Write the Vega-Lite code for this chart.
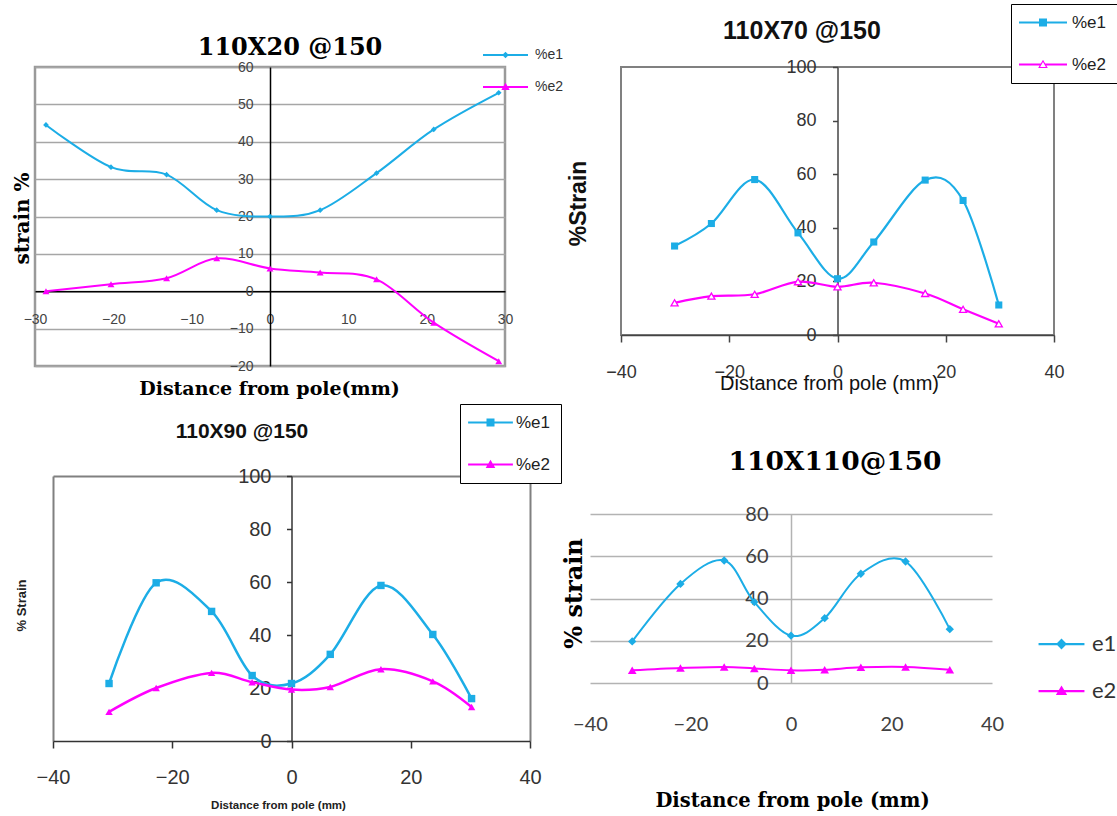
{
  "$schema": "https://vega.github.io/schema/vega-lite/v6.json",
  "background": "white",
  "padding": {"left": 10, "top": 2, "right": 0, "bottom": 0},
  "columns": 2,
  "bounds": "flush",
  "spacing": {"row": 110, "column": 91},
  "config": {"view": {"stroke": null}, "font": "Liberation Sans"},
  "datasets": {
    "p1": [
      {"x": -28.6, "s": "%e1", "v": 44.5}, {"x": -20.3, "s": "%e1", "v": 33.2}, {"x": -13.2, "s": "%e1", "v": 31.2},
      {"x": -6.8, "s": "%e1", "v": 21.7}, {"x": 0, "s": "%e1", "v": 20.0}, {"x": 6.4, "s": "%e1", "v": 21.7},
      {"x": 13.6, "s": "%e1", "v": 31.6}, {"x": 20.9, "s": "%e1", "v": 43.3}, {"x": 29.2, "s": "%e1", "v": 53.1},
      {"x": -28.6, "s": "%e2", "v": 0}, {"x": -20.3, "s": "%e2", "v": 1.9}, {"x": -13.2, "s": "%e2", "v": 3.5},
      {"x": -6.8, "s": "%e2", "v": 8.8}, {"x": 0, "s": "%e2", "v": 6.1}, {"x": 6.4, "s": "%e2", "v": 5.0},
      {"x": 13.6, "s": "%e2", "v": 3.2}, {"x": 20.9, "s": "%e2", "v": -8.4}, {"x": 29.2, "s": "%e2", "v": -18.7}
    ],
    "p2": [
      {"x": -30.1, "s": "%e1", "v": 33.2}, {"x": -23.3, "s": "%e1", "v": 41.6}, {"x": -15.3, "s": "%e1", "v": 58.0},
      {"x": -7.3, "s": "%e1", "v": 38.1}, {"x": 0, "s": "%e1", "v": 21.0}, {"x": 6.7, "s": "%e1", "v": 34.7},
      {"x": 16.2, "s": "%e1", "v": 57.8}, {"x": 23.2, "s": "%e1", "v": 50.2}, {"x": 29.8, "s": "%e1", "v": 11.2},
      {"x": -30.1, "s": "%e2", "v": 12.0}, {"x": -23.3, "s": "%e2", "v": 14.5}, {"x": -15.3, "s": "%e2", "v": 15.2},
      {"x": -7.3, "s": "%e2", "v": 19.9}, {"x": 0, "s": "%e2", "v": 18.0}, {"x": 6.7, "s": "%e2", "v": 19.5},
      {"x": 16.2, "s": "%e2", "v": 15.5}, {"x": 23.2, "s": "%e2", "v": 9.6}, {"x": 29.8, "s": "%e2", "v": 4.2}
    ],
    "p3": [
      {"x": -30.6, "s": "%e1", "v": 21.7}, {"x": -22.7, "s": "%e1", "v": 59.7}, {"x": -13.4, "s": "%e1", "v": 48.9},
      {"x": -6.6, "s": "%e1", "v": 24.7}, {"x": 0, "s": "%e1", "v": 21.7}, {"x": 6.5, "s": "%e1", "v": 32.7},
      {"x": 15.0, "s": "%e1", "v": 58.7}, {"x": 23.7, "s": "%e1", "v": 40.2}, {"x": 30.2, "s": "%e1", "v": 16.0},
      {"x": -30.6, "s": "%e2", "v": 11.0}, {"x": -22.7, "s": "%e2", "v": 20.0}, {"x": -13.4, "s": "%e2", "v": 25.7},
      {"x": -6.6, "s": "%e2", "v": 22.2}, {"x": 0, "s": "%e2", "v": 19.4}, {"x": 6.5, "s": "%e2", "v": 20.4},
      {"x": 15.0, "s": "%e2", "v": 27.1}, {"x": 23.7, "s": "%e2", "v": 22.5}, {"x": 30.2, "s": "%e2", "v": 12.8}
    ],
    "p4": [
      {"x": -31.6, "s": "e1", "v": 19.7}, {"x": -22.0, "s": "e1", "v": 46.9}, {"x": -13.3, "s": "e1", "v": 58.0},
      {"x": -7.3, "s": "e1", "v": 38.3}, {"x": 0, "s": "e1", "v": 22.4}, {"x": 6.7, "s": "e1", "v": 30.7},
      {"x": 13.9, "s": "e1", "v": 51.7}, {"x": 22.8, "s": "e1", "v": 57.5}, {"x": 31.6, "s": "e1", "v": 25.5},
      {"x": -31.6, "s": "e2", "v": 6.0}, {"x": -22.0, "s": "e2", "v": 7.1}, {"x": -13.3, "s": "e2", "v": 7.6},
      {"x": -7.3, "s": "e2", "v": 6.9}, {"x": 0, "s": "e2", "v": 6.0}, {"x": 6.7, "s": "e2", "v": 6.3},
      {"x": 13.9, "s": "e2", "v": 7.4}, {"x": 22.8, "s": "e2", "v": 7.6}, {"x": 31.6, "s": "e2", "v": 6.3}
    ]
  },
  "resolve": {
    "scale": {"x": "independent", "y": "independent", "color": "independent", "shape": "independent"},
    "legend": {"color": "independent", "shape": "independent"}
  },
  "concat": [
    {
      "width": 470, "height": 299,
      "data": {"name": "p1"},
      "view": {"stroke": "#9a9a9a", "strokeWidth": 2.5, "fill": "white"},
      "title": {"text": "110X20 @150", "font": "DejaVu Serif", "fontSize": 24, "fontWeight": "bold", "color": "#000", "anchor": "middle", "frame": "group", "dx": 20, "dy": 20, "offset": 8},
      "encoding": {
        "x": {"field": "x", "type": "quantitative", "scale": {"domain": [-30, 30], "nice": false, "zero": false},
          "axis": {"values": [-30, -20, -10, 0, 10, 20, 30], "offset": -74.75, "domainColor": "#000", "domainWidth": 1.5, "ticks": false, "tickSize": 0, "grid": false,
            "labelFont": "Liberation Sans Narrow, Liberation Sans, sans-serif", "labelFontSize": 14, "labelColor": "#444", "labelPadding": 21, "labelFlush": false, "labelOverlap": false,
            "title": "Distance from pole(mm)", "titleFont": "DejaVu Serif", "titleFontSize": 19, "titleFontWeight": "bold", "titleColor": "#000",
            "titleX": 234, "titleY": 97, "titleAlign": "center", "titleBaseline": "middle"}},
        "y": {"field": "v", "type": "quantitative", "scale": {"domain": [-20, 60], "nice": false},
          "axis": {"values": [-20, -10, 0, 10, 20, 30, 40, 50, 60], "offset": -235, "domainColor": "#000", "domainWidth": 1.5, "ticks": false, "tickSize": 0,
            "grid": true, "gridColor": "#a6a6a6", "gridWidth": 1.5,
            "labelFont": "Liberation Sans Narrow, Liberation Sans, sans-serif", "labelFontSize": 14, "labelColor": "#444", "labelPadding": 17, "labelFlush": false, "labelOverlap": false,
            "title": "strain %", "titleFont": "DejaVu Serif", "titleFontSize": 20, "titleFontWeight": "bold", "titleColor": "#000", "titleAngle": -90,
            "titleX": -248, "titleY": 151, "titleAlign": "center", "titleBaseline": "middle"}}
      },
      "layer": [
        {"transform": [{"filter": "datum.s === '%e1'"}], "mark": {"type": "line", "interpolate": "cardinal", "tension": 0, "color": "#1CADE6", "strokeWidth": 2}},
        {"transform": [{"filter": "datum.s === '%e2'"}], "mark": {"type": "line", "interpolate": "cardinal", "tension": 0, "color": "#FF00FF", "strokeWidth": 2}},
        {"transform": [{"filter": "datum.s === '%e1'"}], "mark": {"type": "point", "shape": "diamond", "filled": true, "opacity": 1, "size": 32, "color": "#1CADE6"}},
        {"transform": [{"filter": "datum.s === '%e2'"}], "mark": {"type": "point", "shape": "triangle-up", "filled": true, "opacity": 1, "size": 48, "color": "#FF00FF"}},
        {"mark": {"type": "point", "filled": true, "opacity": 0},
          "encoding": {
            "color": {"field": "s", "type": "nominal", "scale": {"domain": ["%e1", "%e2"], "range": ["#1CADE6", "#FF00FF"]},
              "legend": {"orient": "none", "legendX": 463.5, "legendY": -19, "direction": "vertical", "title": null, "padding": 0, "symbolSize": 36, "symbolStrokeWidth": 0, "symbolOffset": 0, "symbolOpacity": 1, "labelOffset": 22.5, "labelFont": "Liberation Sans Narrow, Liberation Sans, sans-serif", "labelFontSize": 14, "labelColor": "#333", "rowPadding": 18}},
            "shape": {"field": "s", "type": "nominal", "scale": {"domain": ["%e1", "%e2"], "range": ["M-7.5,-0.33H7.5V0.33H-7.5ZM0,-1.1L1.1,0L0,1.1L-1.1,0Z", "M-7.5,-0.33H7.5V0.33H-7.5ZM0,-1.4L1.4,1H-1.4Z"]},
              "legend": {"orient": "none", "legendX": 463.5, "legendY": -19, "direction": "vertical", "title": null, "padding": 0, "symbolSize": 36, "symbolStrokeWidth": 0, "symbolOffset": 0, "symbolOpacity": 1, "labelOffset": 22.5, "labelFont": "Liberation Sans Narrow, Liberation Sans, sans-serif", "labelFontSize": 14, "labelColor": "#333", "rowPadding": 18}}
          }}
      ]
    },
    {
      "width": 433, "height": 268,
      "data": {"name": "p2"},
      "view": {"stroke": "#808080", "strokeWidth": 2, "fill": "white"},
      "title": {"text": "110X70 @150", "font": "Liberation Sans", "fontSize": 25, "fontWeight": "bold", "color": "#111", "anchor": "middle", "frame": "group", "dx": -35.5, "dy": 48, "offset": 8},
      "encoding": {
        "x": {"field": "x", "type": "quantitative", "scale": {"domain": [-40, 40], "nice": false, "zero": false},
          "axis": {"values": [-40, -20, 0, 20, 40], "domainColor": "#444", "domainWidth": 1.5, "ticks": true, "tickSize": 7, "tickColor": "#444", "tickWidth": 1.5, "grid": false,
            "labelFont": "Liberation Sans", "labelFontSize": 18, "labelColor": "#333", "labelPadding": 21, "labelFlush": false, "labelOverlap": false,
            "title": "Distance from pole (mm)", "titleFont": "Liberation Sans", "titleFontSize": 20, "titleFontWeight": "normal", "titleColor": "#111",
            "titleX": 208, "titleY": 48, "titleAlign": "center", "titleBaseline": "middle"}},
        "y": {"field": "v", "type": "quantitative", "scale": {"domain": [0, 100], "nice": false},
          "axis": {"values": [0, 20, 40, 60, 80, 100], "offset": -216.5, "domainColor": "#444", "domainWidth": 1.5, "ticks": true, "tickSize": 5, "tickColor": "#444", "tickWidth": 1.5, "grid": false,
            "labelFont": "Liberation Sans", "labelFontSize": 18, "labelColor": "#333", "labelPadding": 16.5, "labelFlush": false, "labelOverlap": false,
            "title": "%Strain", "titleFont": "Liberation Sans", "titleFontSize": 23, "titleFontWeight": "bold", "titleColor": "#111", "titleAngle": -90,
            "titleX": -259.5, "titleY": 136, "titleAlign": "center", "titleBaseline": "middle"}}
      },
      "layer": [
        {"transform": [{"filter": "datum.s === '%e1'"}], "mark": {"type": "line", "interpolate": "cardinal", "tension": 0, "color": "#1CADE6", "strokeWidth": 2.2}},
        {"transform": [{"filter": "datum.s === '%e2'"}], "mark": {"type": "line", "interpolate": "cardinal", "tension": 0, "color": "#FF00FF", "strokeWidth": 2.2}},
        {"transform": [{"filter": "datum.s === '%e1'"}], "mark": {"type": "point", "shape": "square", "filled": true, "opacity": 1, "size": 50, "color": "#1CADE6"}},
        {"transform": [{"filter": "datum.s === '%e2'"}], "mark": {"type": "point", "shape": "triangle-up", "filled": true, "opacity": 1, "size": 50, "fill": "white", "stroke": "#FF00FF", "strokeWidth": 1.3}},
        {"mark": {"type": "point", "filled": true, "opacity": 0},
          "encoding": {
            "color": {"field": "s", "type": "nominal", "scale": {"domain": ["%e1", "%e2"], "range": ["#1CADE6", "#FF00FF"]},
              "legend": {"orient": "none", "legendX": 390, "legendY": -63, "direction": "vertical", "title": null, "padding": 10, "strokeColor": "#000", "fillColor": "white", "symbolSize": 64, "symbolStrokeWidth": 0, "symbolOffset": 13.5, "symbolOpacity": 1, "labelOffset": 20.5, "labelFont": "Liberation Sans", "labelFontSize": 17, "labelColor": "#222", "rowPadding": 24}},
            "shape": {"field": "s", "type": "nominal", "scale": {"domain": ["%e1", "%e2"], "range": ["M-6,-0.25H6V0.25H-6ZM-1,-1H1V1H-1Z", "M-6,-0.25H-0.55V0.25H-6ZM0.55,-0.25H6V0.25H0.55ZM0,-1.2L1.2,0.9H-1.2ZM0,-0.65L-0.72,0.6H0.72Z"]},
              "legend": {"orient": "none", "legendX": 390, "legendY": -63, "direction": "vertical", "title": null, "padding": 10, "strokeColor": "#000", "fillColor": "white", "symbolSize": 64, "symbolStrokeWidth": 0, "symbolOffset": 13.5, "symbolOpacity": 1, "labelOffset": 20.5, "labelFont": "Liberation Sans", "labelFontSize": 17, "labelColor": "#222", "rowPadding": 24}}
          }}
      ]
    },
    {
      "width": 495, "height": 265,
      "data": {"name": "p3"},
      "view": {"stroke": null},
      "title": {"text": "110X90 @150", "font": "Liberation Sans", "fontSize": 21, "fontWeight": "bold", "color": "#111", "anchor": "middle", "frame": "group", "dx": -40.5, "dy": 46, "offset": 8},
      "encoding": {
        "x": {"field": "x", "type": "quantitative", "scale": {"domain": [-40, 40], "nice": false, "zero": false, "range": [18, 495]},
          "axis": {"values": [-40, -20, 0, 20, 40], "domainColor": "#333", "domainWidth": 1.5, "ticks": true, "tickSize": 7, "tickColor": "#333", "tickWidth": 1.5,
            "grid": true, "gridWidth": 2, "gridColor": {"condition": {"test": "datum.value === -40 || datum.value === 40", "value": "#808080"}, "value": "transparent"},
            "labelFont": "Liberation Sans", "labelFontSize": 20, "labelColor": "#333", "labelPadding": 19, "labelFlush": false, "labelOverlap": false,
            "title": "Distance from pole (mm)", "titleFont": "Liberation Sans", "titleFontSize": 11.5, "titleFontWeight": "bold", "titleColor": "#222",
            "titleX": 243, "titleY": 64, "titleAlign": "center", "titleBaseline": "middle"}},
        "y": {"field": "v", "type": "quantitative", "scale": {"domain": [0, 100], "nice": false},
          "axis": {"values": [0, 20, 40, 60, 80, 100], "offset": -256.5, "domainColor": "#333", "domainWidth": 1.5, "ticks": true, "tickSize": 5, "tickColor": "#333", "tickWidth": 1.5,
            "grid": true, "gridWidth": 2, "gridColor": {"condition": {"test": "datum.value === 100", "value": "#808080"}, "value": "transparent"},
            "labelFont": "Liberation Sans", "labelFontSize": 20, "labelColor": "#333", "labelPadding": 15.5, "labelFlush": false, "labelOverlap": false,
            "title": "% Strain", "titleFont": "Liberation Sans", "titleFontSize": 13, "titleFontWeight": "bold", "titleColor": "#222", "titleAngle": -90,
            "titleX": -270.5, "titleY": 129, "titleAlign": "center", "titleBaseline": "middle"}}
      },
      "layer": [
        {"transform": [{"filter": "datum.s === '%e1'"}], "mark": {"type": "line", "interpolate": "cardinal", "tension": 0, "color": "#1CADE6", "strokeWidth": 2.5}},
        {"transform": [{"filter": "datum.s === '%e2'"}], "mark": {"type": "line", "interpolate": "cardinal", "tension": 0, "color": "#FF00FF", "strokeWidth": 2.5}},
        {"transform": [{"filter": "datum.s === '%e1'"}], "mark": {"type": "point", "shape": "square", "filled": true, "opacity": 1, "size": 55, "color": "#1CADE6"}},
        {"transform": [{"filter": "datum.s === '%e2'"}], "mark": {"type": "point", "shape": "triangle-up", "filled": true, "opacity": 1, "size": 55, "color": "#FF00FF"}},
        {"mark": {"type": "point", "filled": true, "opacity": 0},
          "encoding": {
            "color": {"field": "s", "type": "nominal", "scale": {"domain": ["%e1", "%e2"], "range": ["#1CADE6", "#FF00FF"]},
              "legend": {"orient": "none", "legendX": 425, "legendY": -72, "direction": "vertical", "title": null, "padding": 10, "strokeColor": "#000", "fillColor": "white", "symbolSize": 64, "symbolStrokeWidth": 0, "symbolOffset": 12, "symbolOpacity": 1, "labelOffset": 17, "labelFont": "Liberation Sans", "labelFontSize": 17, "labelColor": "#222", "rowPadding": 24}},
            "shape": {"field": "s", "type": "nominal", "scale": {"domain": ["%e1", "%e2"], "range": ["M-5.6,-0.25H5.6V0.25H-5.6ZM-1,-1H1V1H-1Z", "M-5.6,-0.25H5.6V0.25H-5.6ZM0,-1.2L1.2,0.9H-1.2Z"]},
              "legend": {"orient": "none", "legendX": 425, "legendY": -72, "direction": "vertical", "title": null, "padding": 10, "strokeColor": "#000", "fillColor": "white", "symbolSize": 64, "symbolStrokeWidth": 0, "symbolOffset": 12, "symbolOpacity": 1, "labelOffset": 17, "labelFont": "Liberation Sans", "labelFontSize": 17, "labelColor": "#222", "rowPadding": 24}}
          }}
      ]
    },
    {
      "width": 371, "height": 207,
      "data": {"name": "p4"},
      "view": {"stroke": null},
      "title": {"text": "110X110@150", "font": "DejaVu Serif", "fontSize": 26.5, "fontWeight": "bold", "color": "#000", "anchor": "middle", "frame": "group", "dx": 28.5, "dy": 7, "offset": 8},
      "encoding": {
        "x": {"field": "x", "type": "quantitative", "scale": {"domain": [-40, 40], "nice": false, "zero": false, "range": [-31, 371]},
          "axis": {"values": [-40, -20, 0, 20, 40], "domain": false, "ticks": false, "tickSize": 0, "grid": false,
            "labelFont": "Lato", "labelFontSize": 20, "labelColor": "#404040", "labelPadding": 31, "labelFlush": false, "labelOverlap": false,
            "title": "Distance from pole (mm)", "titleFont": "DejaVu Serif", "titleFontSize": 19.5, "titleFontWeight": "bold", "titleColor": "#000",
            "titleX": 171, "titleY": 117, "titleAlign": "center", "titleBaseline": "middle"}},
        "y": {"field": "v", "type": "quantitative", "scale": {"domain": [0, 80], "nice": false, "range": [207, 38]},
          "axis": {"values": [0, 20, 40, 60, 80], "offset": -170, "domainColor": "#b3b3b3", "domainWidth": 1.5, "ticks": false, "tickSize": 0,
            "grid": true, "gridColor": "#b3b3b3", "gridWidth": 1.5,
            "labelFont": "Lato", "labelFontSize": 20, "labelColor": "#404040", "labelPadding": 23, "labelFlush": false, "labelOverlap": false,
            "title": "% strain", "titleFont": "DejaVu Serif", "titleFontSize": 24, "titleFontWeight": "bold", "titleColor": "#000", "titleAngle": -90,
            "titleX": -217, "titleY": 117, "titleAlign": "center", "titleBaseline": "middle"}}
      },
      "layer": [
        {"transform": [{"filter": "datum.s === 'e1'"}], "mark": {"type": "line", "interpolate": "cardinal", "tension": 0, "color": "#1CADE6", "strokeWidth": 2}},
        {"transform": [{"filter": "datum.s === 'e2'"}], "mark": {"type": "line", "interpolate": "cardinal", "tension": 0, "color": "#FF00FF", "strokeWidth": 2}},
        {"transform": [{"filter": "datum.s === 'e1'"}], "mark": {"type": "point", "shape": "diamond", "filled": true, "opacity": 1, "size": 70, "color": "#1CADE6"}},
        {"transform": [{"filter": "datum.s === 'e2'"}], "mark": {"type": "point", "shape": "triangle-up", "filled": true, "opacity": 1, "size": 75, "color": "#FF00FF"}},
        {"mark": {"type": "point", "filled": true, "opacity": 0},
          "encoding": {
            "color": {"field": "s", "type": "nominal", "scale": {"domain": ["e1", "e2"], "range": ["#1CADE6", "#FF00FF"]},
              "legend": {"orient": "none", "legendX": 409.5, "legendY": 157, "direction": "vertical", "title": null, "padding": 0, "symbolSize": 81, "symbolStrokeWidth": 0, "symbolOffset": 20, "symbolOpacity": 1, "labelOffset": 19.5, "labelFont": "Lato", "labelFontSize": 22, "labelColor": "#333", "rowPadding": 25}},
            "shape": {"field": "s", "type": "nominal", "scale": {"domain": ["e1", "e2"], "range": ["M-5.1,-0.25H5.1V0.25H-5.1ZM0,-1.2L1.2,0L0,1.2L-1.2,0Z", "M-5.1,-0.25H5.1V0.25H-5.1ZM0,-1.25L1.25,0.9H-1.25Z"]},
              "legend": {"orient": "none", "legendX": 409.5, "legendY": 157, "direction": "vertical", "title": null, "padding": 0, "symbolSize": 81, "symbolStrokeWidth": 0, "symbolOffset": 20, "symbolOpacity": 1, "labelOffset": 19.5, "labelFont": "Lato", "labelFontSize": 22, "labelColor": "#333", "rowPadding": 25}}
          }}
      ]
    }
  ]
}
